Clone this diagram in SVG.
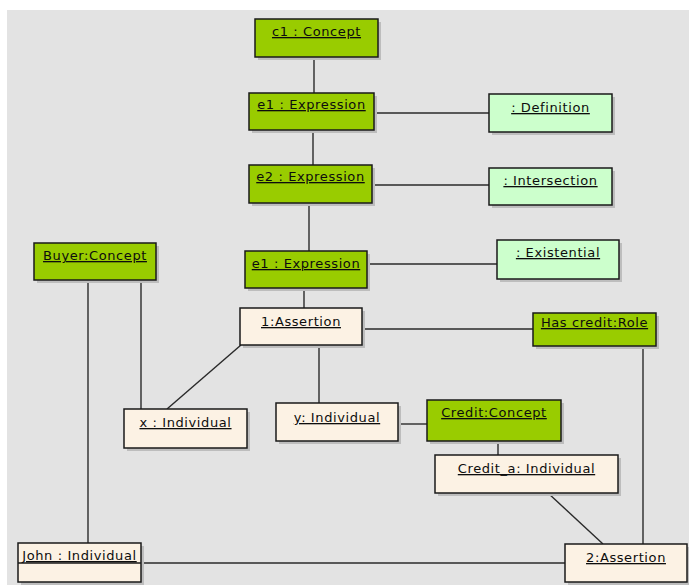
<svg xmlns="http://www.w3.org/2000/svg" width="689" height="585" viewBox="0 0 689 585">
  <style>
    .box { stroke: #1a1a1a; stroke-width: 1.5; }
    .g { fill: #99cc00; }
    .lg { fill: #ccffcc; }
    .c { fill: #fcf2e4; }
    .sh { fill: #bdbdbd; }
    .t { font-family: "DejaVu Sans", sans-serif; font-size: 13px; letter-spacing: 0.6px; fill: #0d0d0d; text-anchor: middle; text-decoration: underline; }
    .ln { stroke: #2a2a2a; stroke-width: 1.4; fill: none; }
  </style>

  <rect x="0" y="0" width="689" height="585" fill="#ffffff"/>
  <rect x="7" y="10" width="682" height="575" fill="#e3e3e3"/>

  <!-- links between objects -->
  <g id="connectors">
    <line class="ln" x1="314" y1="57" x2="314" y2="93"/>
    <line class="ln" x1="374" y1="113" x2="489" y2="113"/>
    <line class="ln" x1="313" y1="130" x2="313" y2="165"/>
    <line class="ln" x1="372" y1="185" x2="489" y2="185"/>
    <line class="ln" x1="309" y1="203" x2="309" y2="251"/>
    <line class="ln" x1="367" y1="264" x2="497" y2="264"/>
    <line class="ln" x1="304" y1="288" x2="304" y2="308"/>
    <line class="ln" x1="362" y1="329" x2="533" y2="329"/>
    <line class="ln" x1="241" y1="345" x2="167" y2="409"/>
    <line class="ln" x1="319" y1="345" x2="319" y2="403"/>
    <line class="ln" x1="88" y1="280" x2="88" y2="543"/>
    <line class="ln" x1="141" y1="280" x2="141" y2="409"/>
    <line class="ln" x1="398" y1="424" x2="427" y2="424"/>
    <line class="ln" x1="498" y1="441" x2="498" y2="455"/>
    <line class="ln" x1="548" y1="493" x2="603" y2="544"/>
    <line class="ln" x1="643" y1="346" x2="643" y2="544"/>
    <line class="ln" x1="141" y1="563" x2="565" y2="563"/>
  </g>

  <g id="c1">
    <rect class="sh" x="258" y="22" width="123" height="38"/>
    <rect class="box g" x="255" y="19" width="123" height="38"/>
    <text class="t" x="316.5" y="36">c1 : Concept</text>
  </g>

  <g id="e1a">
    <rect class="sh" x="252" y="96" width="125" height="37"/>
    <rect class="box g" x="249" y="93" width="125" height="37"/>
    <text class="t" x="311.5" y="109">e1 : Expression</text>
  </g>

  <g id="definition">
    <rect class="sh" x="492" y="97" width="123" height="38"/>
    <rect class="box lg" x="489" y="94" width="123" height="38"/>
    <text class="t" x="550.5" y="112">: Definition</text>
  </g>

  <g id="e2">
    <rect class="sh" x="252" y="168" width="123" height="38"/>
    <rect class="box g" x="249" y="165" width="123" height="38"/>
    <text class="t" x="310.5" y="181">e2 : Expression</text>
  </g>

  <g id="intersection">
    <rect class="sh" x="492" y="171" width="123" height="37"/>
    <rect class="box lg" x="489" y="168" width="123" height="37"/>
    <text class="t" x="550.5" y="185">: Intersection</text>
  </g>

  <g id="buyer">
    <rect class="sh" x="37" y="246" width="122" height="37"/>
    <rect class="box g" x="34" y="243" width="122" height="37"/>
    <text class="t" x="95" y="260">Buyer:Concept</text>
  </g>

  <g id="e1b">
    <rect class="sh" x="248" y="254" width="122" height="37"/>
    <rect class="box g" x="245" y="251" width="122" height="37"/>
    <text class="t" x="306" y="268">e1 : Expression</text>
  </g>

  <g id="existential">
    <rect class="sh" x="500" y="243" width="122" height="39"/>
    <rect class="box lg" x="497" y="240" width="122" height="39"/>
    <text class="t" x="558" y="257">: Existential</text>
  </g>

  <g id="assertion1">
    <rect class="sh" x="243" y="311" width="122" height="37"/>
    <rect class="box c" x="240" y="308" width="122" height="37"/>
    <text class="t" x="301" y="326">1:Assertion</text>
  </g>

  <g id="hascredit">
    <rect class="sh" x="536" y="316" width="123" height="33"/>
    <rect class="box g" x="533" y="313" width="123" height="33"/>
    <text class="t" x="594.5" y="327">Has credit:Role</text>
  </g>

  <g id="x-individual">
    <rect class="sh" x="127" y="412" width="123" height="39"/>
    <rect class="box c" x="124" y="409" width="123" height="39"/>
    <text class="t" x="185.5" y="427">x : Individual</text>
  </g>

  <g id="y-individual">
    <rect class="sh" x="279" y="406" width="122" height="38"/>
    <rect class="box c" x="276" y="403" width="122" height="38"/>
    <text class="t" x="337" y="422">y: Individual</text>
  </g>

  <g id="credit-concept">
    <rect class="sh" x="430" y="403" width="134" height="41"/>
    <rect class="box g" x="427" y="400" width="134" height="41"/>
    <text class="t" x="494" y="417">Credit:Concept</text>
  </g>

  <g id="credit-a">
    <rect class="sh" x="438" y="458" width="183" height="38"/>
    <rect class="box c" x="435" y="455" width="183" height="38"/>
    <text class="t" x="526.5" y="473">Credit_a: Individual</text>
  </g>

  <g id="john">
    <rect class="sh" x="21" y="546" width="123" height="39"/>
    <rect class="box c" x="18" y="543" width="123" height="39"/>
    <line class="box" x1="18" y1="563" x2="141" y2="563"/>
    <text class="t" x="79.5" y="560">John : Individual</text>
  </g>

  <g id="assertion2">
    <rect class="sh" x="568" y="547" width="122" height="38"/>
    <rect class="box c" x="565" y="544" width="122" height="38"/>
    <text class="t" x="626" y="562">2:Assertion</text>
  </g>
</svg>
